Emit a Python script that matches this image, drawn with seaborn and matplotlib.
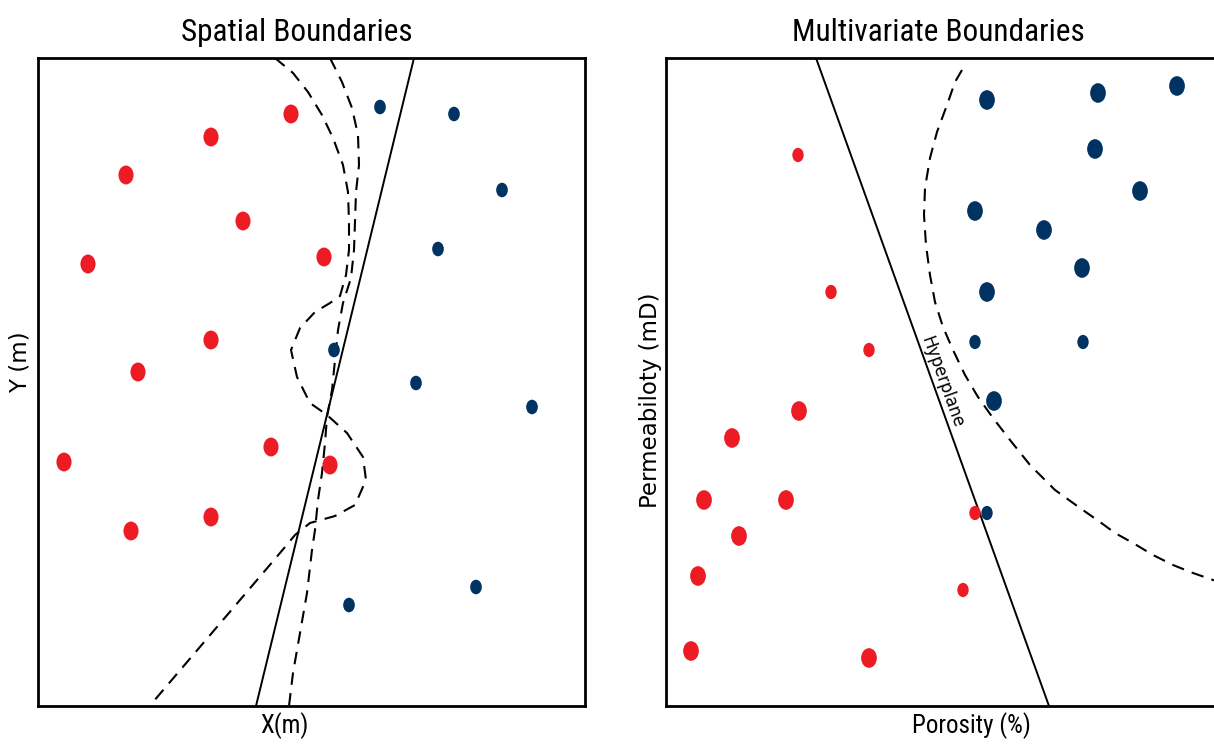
import numpy as np
import pandas as pd
import matplotlib
matplotlib.use("Agg")
import matplotlib.pyplot as plt
import seaborn as sns
from matplotlib.path import Path
from matplotlib.transforms import Affine2D
from matplotlib import font_manager as fm

# ---------------- data (arbitrary units) ----------------
left_red_x = [253, 173, 88, 205, 50, 286, 173, 100, 26, 233, 292, 93, 173]
left_red_y = [592, 569, 531, 485, 442, 449, 366, 334, 244, 259, 241, 175, 189]
left_blue_x = [342, 416, 464, 400, 296, 378, 494, 438, 311]
left_blue_y = [599, 592, 516, 457, 356, 323, 299, 119, 101]

left_line_x = [376, 218]
left_line_y = [648, 0]

left_curve1_x = [237, 255, 270, 284, 295, 305, 310, 311, 311, 308, 302, 292, 277, 262, 253,
                 259, 272, 289, 309, 325, 328, 317, 297, 272, 257, 242, 225, 115]
left_curve1_y = [648, 633, 614, 591, 568, 541, 514, 484, 456, 431, 410, 403, 394, 378, 356,
                 329, 303, 291, 273, 249, 226, 201, 190, 183, 171, 153, 133, 4]

left_curve2_x = [292, 304, 314, 320, 321, 318, 317, 316, 313, 305, 300, 297, 294, 289, 287,
                 284, 280, 277, 274, 269, 262, 255, 251]
left_curve2_y = [648, 624, 598, 571, 541, 514, 484, 456, 428, 403, 376, 346, 316, 289, 263,
                 233, 206, 176, 156, 113, 73, 33, 0]

right_red_x = [132, 165, 203, 133, 66, 38, 120, 73, 32, 25, 203, 309, 297]
right_red_y = [551, 414, 356, 295, 268, 206, 206, 170, 130, 55, 48, 193, 116]
right_red_size = ["small", "small", "small", "large", "large", "large", "large", "large",
                  "large", "large", "large", "small", "small"]

right_blue_x = [321, 432, 511, 429, 474, 309, 378, 416, 321, 309, 417, 328, 321]
right_blue_y = [606, 613, 620, 557, 515, 495, 476, 438, 414, 364, 364, 305, 193]
right_blue_size = ["large", "large", "large", "large", "large", "large", "large", "large",
                   "large", "small", "small", "large", "small"]

right_line_x = [150, 383]
right_line_y = [648, 0]

right_curve_x = [296, 289, 281, 271, 264, 259, 258, 260, 264, 269, 277, 287, 299, 312, 327,
                 344, 364, 389, 414, 434, 449, 467, 487, 507, 527, 550]
right_curve_y = [636, 624, 601, 574, 548, 518, 491, 461, 431, 404, 379, 356, 331, 309, 288,
                 266, 241, 216, 198, 184, 173, 163, 151, 141, 133, 125]

titles = ["Spatial Boundaries", "Multivariate Boundaries"]
xlabels = ["X(m)", "Porosity (%)"]
ylabels = ["Y (m)", "Permeabiloty (mD)"]
hyper_label = "Hyperplane"

# ---------------- styling ----------------
RED = "#ED1C24"
BLUE = "#003362"

sns.set_style("white")
plt.rcParams["font.family"] = ["DejaVu Sans"]
plt.rcParams["text.color"] = "black"
plt.rcParams["axes.labelcolor"] = "black"


def pick(cands):
    for c in cands:
        try:
            fm.findfont(fm.FontProperties(family=c), fallback_to_default=False)
            return c
        except Exception:
            pass
    return "DejaVu Sans"


narrow = pick(["Liberation Sans Narrow", "Roboto Condensed", "Open Sans Condensed", "Liberation Sans"])

ellipse = Path.unit_circle().transformed(Affine2D().scale(0.8, 1.0))

fig = plt.figure(figsize=(12.14, 7.45), dpi=100)
W, H = 1214, 745
axL = fig.add_axes([38 / W, (H - 706) / H, 547 / W, 648 / H])
axR = fig.add_axes([666 / W, (H - 706) / H, 550 / W, 648 / H])

dash = (0, (6, 4))
DLW = 1.5

# ---- left panel ----
dfL = pd.DataFrame({
    "x": left_red_x + left_blue_x,
    "y": left_red_y + left_blue_y,
    "cls": ["red"] * len(left_red_x) + ["blue"] * len(left_blue_x),
})
dfL["sz"] = np.where(dfL["cls"] == "red", "large", "small")
sns.scatterplot(data=dfL, x="x", y="y", hue="cls", size="sz",
                palette={"red": RED, "blue": BLUE},
                sizes={"large": 185, "small": 110},
                marker=ellipse, linewidth=0, legend=False, ax=axL, zorder=3)
sns.lineplot(x=left_line_x, y=left_line_y, sort=False, estimator=None,
             color="black", lw=1.4, ax=axL)
sns.lineplot(x=left_curve1_x, y=left_curve1_y, sort=False, estimator=None,
             color="black", lw=DLW, linestyle=dash, ax=axL)
sns.lineplot(x=left_curve2_x, y=left_curve2_y, sort=False, estimator=None,
             color="black", lw=DLW, linestyle=dash, ax=axL)
axL.set_xlim(0, 547)
axL.set_ylim(0, 648)

# ---- right panel ----
dfR = pd.DataFrame({
    "x": right_red_x + right_blue_x,
    "y": right_red_y + right_blue_y,
    "cls": ["red"] * len(right_red_x) + ["blue"] * len(right_blue_x),
    "sz": right_red_size + right_blue_size,
})
sns.scatterplot(data=dfR, x="x", y="y", hue="cls", size="sz",
                palette={"red": RED, "blue": BLUE},
                sizes={"large": 200, "small": 105},
                marker=ellipse, linewidth=0, legend=False, ax=axR, zorder=3)
sns.lineplot(x=right_line_x, y=right_line_y, sort=False, estimator=None,
             color="black", lw=1.4, ax=axR)
sns.lineplot(x=right_curve_x, y=right_curve_y, sort=False, estimator=None,
             color="black", lw=DLW, linestyle=dash, ax=axR)
axR.set_xlim(0, 550)
axR.set_ylim(0, 648)
axR.text(276, 324, hyper_label, rotation=-70.2, rotation_mode="anchor",
         ha="center", va="center", fontsize=12, color="black")

# ---- decorations ----
title_x = [0.473, 0.496]
xl_x = [0.45, 0.555]
yl = [(-0.011, 0.531), (-0.007, 0.472)]
for i, ax in enumerate([axL, axR]):
    ax.set_xticks([])
    ax.set_yticks([])
    for s in ax.spines.values():
        s.set_color("black")
        s.set_linewidth(2.0)
    ax.set_title(titles[i], fontsize=22.5, family=narrow, pad=12, color="black")
    ax.title.set_x(title_x[i])
    ax.set_xlabel(xlabels[i], fontsize=18, family=narrow, color="black")
    ax.xaxis.set_label_coords(xl_x[i], -0.01)
    ax.set_ylabel(ylabels[i], fontsize=16.5, family="DejaVu Sans", color="black")
    ax.yaxis.set_label_coords(*yl[i])

fig.savefig("out.png", dpi=100)
